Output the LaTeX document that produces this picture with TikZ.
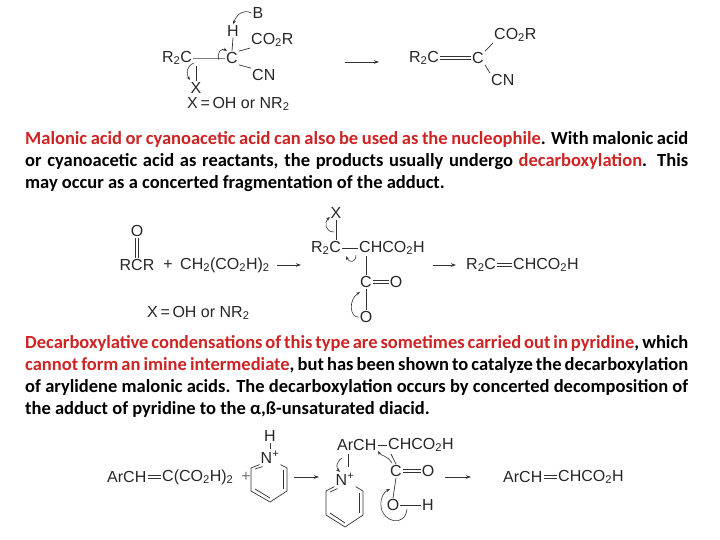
\documentclass[tikz,border=0pt]{standalone}
\usepackage{fontspec}
\setmainfont{Carlito}
\newfontfamily\chemf{Liberation Sans}
\usetikzlibrary{arrows.meta,calc}
\definecolor{txtred}{RGB}{205,35,35}
\begin{document}
\begin{tikzpicture}[x=1pt,y=-1pt,
  ch/.style={font=\chemf\fontsize{16}{16}\selectfont, inner sep=1pt, text=black!85},
  bd/.style={line width=0.7pt, black!80},
  dbl/.style={double distance=2.2pt, line width=0.6pt, black!80},
  rx/.style={line width=0.7pt, black!80, -{Stealth[length=5pt,width=3.5pt]}},
  cur/.style={line width=0.6pt, black!80, -{Stealth[length=4pt,width=3pt]}},
  para/.style={anchor=north west, text width=663pt, align=justify, inner sep=0pt,
     font=\bfseries\fontsize{18.5}{22}\selectfont}]
\useasboundingbox (0,0) rectangle (720,540);
% ---------- top scheme
\node[ch] (B) at (258,13) {B};
\node[ch] (H) at (233,31) {H};
\node[ch] (C1) at (232,58) {C};
\node[ch,anchor=west] (CO2R) at (250,40) {CO\textsubscript{2}R};
\node[ch] (R2C) at (177,58) {R\textsubscript{2}C};
\node[ch,anchor=west] (CN) at (251,75) {CN};
\node[ch] (X) at (196,88) {X};
\node[ch,anchor=west] (xeq) at (186,104) {X\,=\,OH or NR\textsubscript{2}};
\draw[bd] (H.south) -- (C1.north);
\draw[bd] (C1.north east) -- (CO2R.south west);
\draw[bd] (C1.south east) -- (CN.north west);
\draw[bd,black!50] (R2C.east) -- (C1.west);
\draw[bd] (X.north) -- (X.north |- R2C.south);
\draw[cur] (B.west) .. controls (243,9) and (237,14) .. (H.north);
\draw[cur] (219,60) .. controls (216,52) and (222,48) .. (227,51);
\draw[cur] (194,63) .. controls (186,66) and (186,74) .. (190,80);
\coordinate (a1s) at (345,62); \coordinate (a1e) at (379,62);
\draw[rx] (a1s) -- (a1e);
\node[ch] (R2Cp) at (424,58) {R\textsubscript{2}C};
\node[ch] (Cp) at (478,58) {C};
\node[ch,anchor=west] (CO2Rp) at (493,35) {CO\textsubscript{2}R};
\node[ch,anchor=west] (CNp) at (490,80) {CN};
\draw[dbl] (R2Cp.east) -- (Cp.west);
\draw[bd] (Cp.north east) -- (CO2Rp.south west);
\draw[bd] (Cp.south east) -- (CNp.north west);
% ---------- paragraph 1
\node[para] (p1) at (25,131) {\textcolor{txtred}{Malonic acid or cyanoacetic acid can also be used as the nucleophile}. With malonic acid or cyanoacetic acid as reactants, the products usually undergo \textcolor{txtred}{decarboxylation}. This may occur as a concerted fragmentation of the adduct.};
% ---------- middle scheme
\node[ch] (O1) at (137,231) {O};
\node[ch] (RCR) at (137,265) {RCR};
\draw[dbl] (O1.south) -- (RCR.north);
\node[ch] (plus1) at (168,265) {+};
\node[ch,anchor=west] (mal) at (179,265) {CH\textsubscript{2}(CO\textsubscript{2}H)\textsubscript{2}};
\coordinate (a2s) at (277,265); \coordinate (a2e) at (301,265);
\draw[rx] (a2s) -- (a2e);
\node[ch] (X2) at (336,213) {X};
\node[ch] (R2C2) at (326,248) {R\textsubscript{2}C};
\node[ch,anchor=west] (CH2) at (358,248) {CHCO\textsubscript{2}H};
\node[ch] (C2) at (366,282) {C};
\node[ch] (O2) at (396,282) {O};
\node[ch] (Ob) at (366,317) {O};
\node[ch,anchor=west] (xeq2) at (146,313) {X\,=\,OH or NR\textsubscript{2}};
\draw[bd] (X2.south) -- (X2.south |- R2C2.north);
\draw[bd] (R2C2.east) -- (CH2.west);
\draw[bd] (C2.north |- CH2.south) -- (C2.north);
\draw[dbl] (C2.east) -- (O2.west);
\draw[bd] (C2.south) -- (Ob.north);
\draw[cur] (334,232) .. controls (325,232) and (324,222) .. (330,217);
\draw[cur] (356,255) .. controls (356,263) and (349,263) .. (346,256);
\draw[cur] (Ob.west) .. controls (350,318) and (348,300) .. (360,292);
\coordinate (a3s) at (433,265); \coordinate (a3e) at (456,265);
\draw[rx] (a3s) -- (a3e);
\node[ch,anchor=west] (R2C3) at (465,265) {R\textsubscript{2}C};
\node[ch,anchor=west] (CH3) at (512,265) {CHCO\textsubscript{2}H};
\draw[dbl] (R2C3.east) -- (CH3.west);
% ---------- paragraph 2
\node[para] (p2) at (25,335) {\textcolor{txtred}{Decarboxylative condensations of this type are sometimes carried out in pyridine}, which \textcolor{txtred}{cannot form an imine intermediate}, but has been shown to catalyze the decarboxylation of arylidene malonic acids. The decarboxylation occurs by concerted decomposition of the adduct of pyridine to the α,ß-unsaturated diacid.};
% ---------- bottom scheme
\node[ch,anchor=west] (ArCH) at (106,477) {ArCH};
\node[ch,anchor=west] (CCO) at (161,477) {C(CO\textsubscript{2}H)\textsubscript{2}};
\draw[dbl] (ArCH.east) -- (CCO.west);
\node[ch,text=black!55] (plus2) at (246,477) {+};
% pyridinium 1
\node[ch] (Hp) at (270,436) {H};
\node[ch] (N1) at (270,457) {N\textsuperscript{+}};
\coordinate (r1a) at (287,468); \coordinate (r1b) at (287,491);
\coordinate (r1c) at (270,502); \coordinate (r1d) at (251,491); \coordinate (r1e) at (251,468);
\draw[bd] (Hp.south) -- (N1.north);
\draw[bd] (N1.south east) -- (r1a) -- (r1b) -- (r1c) -- (r1d) -- (r1e) -- (N1.south west);
\draw[bd] ($(r1a)+(-4,2)$) -- ($(r1b)+(-4,-2)$);
\draw[bd] ($(r1c)+(0,-4)$) -- ($(r1d)+(4,-2)$);
\draw[bd] ($(r1e)+(4,1)$) -- ($(N1.south west)+(3,2)$);
\coordinate (a4s) at (294,477); \coordinate (a4e) at (319,477);
\draw[rx] (a4s) -- (a4e);
\node[ch,anchor=west] (ArCH2) at (336,445) {ArCH};
\node[ch,anchor=west] (CH4) at (387,445) {CHCO\textsubscript{2}H};
\draw[bd] (ArCH2.east) -- (CH4.west);
\node[ch] (N2) at (345,479) {N\textsuperscript{+}};
\coordinate (r2a) at (363,491); \coordinate (r2b) at (363,515);
\coordinate (r2c) at (345,527); \coordinate (r2d) at (326,515); \coordinate (r2e) at (326,491);
\draw[bd] (N2.south east) -- (r2a) -- (r2b) -- (r2c) -- (r2d) -- (r2e) -- (N2.south west);
\draw[bd] ($(r2a)+(-4,2)$) -- ($(r2b)+(-4,-2)$);
\draw[bd] ($(r2c)+(0,-4)$) -- ($(r2d)+(4,-2)$);
\draw[bd] ($(r2e)+(4,1)$) -- ($(N2.south west)+(3,2)$);
\draw[bd] (348,454) -- (348,467);
\node[ch] (C4) at (396,471) {C};
\node[ch] (O4) at (428,471) {O};
\node[ch] (O5) at (393,505) {O};
\node[ch] (H5) at (428,505) {H};
\draw[bd] (391,454) -- (C4.north);
\draw[dbl] (C4.east) -- (O4.west);
\draw[bd] (C4.south) -- (O5.north);
\draw[bd] (O5.east) -- (H5.west);
\draw[cur] (342,458) .. controls (336,462) and (336,468) .. (340,472);
\draw[cur] (392,463) .. controls (387,455) and (381,456) .. (378,451);
\draw[cur] (407,509) .. controls (405,528) and (382,522) .. (381,506) .. controls (380,498) and (384,492) .. (390,489);
\coordinate (a5s) at (445,477); \coordinate (a5e) at (471,477);
\draw[rx] (a5s) -- (a5e);
\node[ch,anchor=west] (ArCH3) at (502,477) {ArCH};
\node[ch,anchor=west] (CH5) at (557,477) {CHCO\textsubscript{2}H};
\draw[dbl] (ArCH3.east) -- (CH5.west);
\end{tikzpicture}
\end{document}
